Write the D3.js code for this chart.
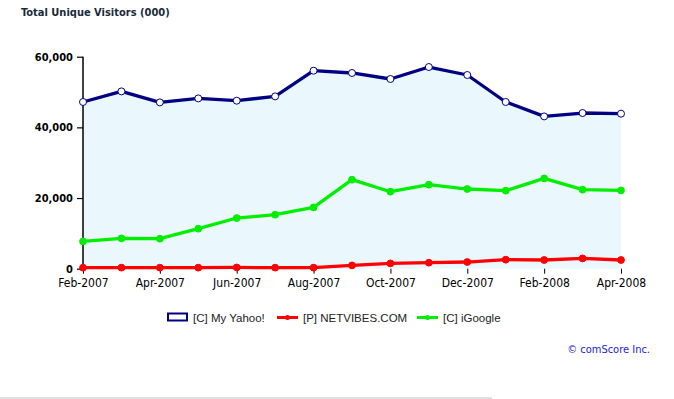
<!DOCTYPE html>
<html><head><meta charset="utf-8">
<script src="https://cdn.jsdelivr.net/npm/d3@7"></script>
<style>body{margin:0;background:#fff;}svg{display:block;}</style>
</head><body>
<script>
const months = ["Feb-2007","Mar-2007","Apr-2007","May-2007","Jun-2007","Jul-2007","Aug-2007","Sep-2007","Oct-2007","Nov-2007","Dec-2007","Jan-2008","Feb-2008","Mar-2008","Apr-2008"];
const myYahoo = [47180,50180,47070,48200,47550,48770,56040,55390,53690,57080,54820,47180,43100,44060,43870];
const netvibes = [280,300,300,300,350,300,300,930,1500,1700,1890,2550,2460,2920,2460];
const iGoogle = [7730,8580,8490,11320,14340,15280,17350,25190,21790,23770,22550,22080,25560,22360,22160];
const yTicks = [0,20000,40000,60000];
const xTickLabels = ["Feb-2007","Apr-2007","Jun-2007","Aug-2007","Oct-2007","Dec-2007","Feb-2008","Apr-2008"];
const seriesNames = ["[C] My Yahoo!","[P] NETVIBES.COM","[C] iGoogle"];

const W=674,H=399;
const svg=d3.select("body").append("svg").attr("width",W).attr("height",H);
const x=d3.scalePoint().domain(months).range([83,621]);
const y=d3.scaleLinear().domain([0,60000]).range([268.7,56.7]);

const tahoma="'DejaVu Sans Condensed','DejaVu Sans',sans-serif";
svg.append("text").attr("x",21).attr("y",16).attr("font-family",tahoma).attr("font-weight","bold")
  .attr("font-size",11).attr("fill","#1a2a3a").text("Total Unique Visitors (000)");

// area fill
svg.append("path").datum(months).attr("fill","#eaf8fe")
  .attr("d",d3.area().x(d=>x(d)).y0(y(0)).y1((d,i)=>y(myYahoo[i])));

// y axis
const ya=svg.append("g").attr("transform","translate(83,0)")
  .call(d3.axisLeft(y).tickValues(yTicks).tickSize(6).tickPadding(4).tickFormat(d3.format(",")));
ya.select(".domain").attr("d","M0,"+y(60000)+"V"+(y(0)+1)).attr("stroke","#000").attr("stroke-width",1.5);
ya.selectAll("text").attr("font-family",tahoma).attr("font-weight","bold").attr("font-size",11).attr("fill","#000");
ya.selectAll("line").attr("stroke","#000").attr("stroke-width",1.2);

// x axis
const xa=svg.append("g").attr("transform","translate(0,"+y(0)+")")
  .call(d3.axisBottom(x).tickValues(xTickLabels).tickSize(5).tickPadding(5));
xa.select(".domain").remove();
xa.selectAll("line").attr("stroke","#000");
xa.selectAll("text").attr("font-family",tahoma).attr("font-size",12).attr("fill","#000");

function drawLine(vals,color,w,markerFill,markerStroke,r){
  svg.append("path").datum(vals).attr("fill","none").attr("stroke",color).attr("stroke-width",w)
    .attr("stroke-linejoin","round")
    .attr("d",d3.line().x((d,i)=>x(months[i])).y(d=>y(d)));
  svg.append("g").selectAll("circle").data(vals).join("circle")
    .attr("cx",(d,i)=>x(months[i])).attr("cy",d=>y(d)).attr("r",r)
    .attr("fill",markerFill).attr("stroke",markerStroke).attr("stroke-width",1);
}
drawLine(myYahoo,"#000080",3.3,"#fff","#000080",3.5);
drawLine(netvibes,"#ff0000",3.3,"#ff0000","#ff0000",3.4);
drawLine(iGoogle,"#00ee00",3.3,"#00ee00","#00ee00",3.4);

// legend
const lg=svg.append("g").attr("font-family","'Liberation Sans',Arial,sans-serif").attr("font-size",11.5).attr("fill","#222");
lg.append("rect").attr("x",168).attr("y",313.5).attr("width",19).attr("height",7).attr("fill","#fff").attr("stroke","#000080").attr("stroke-width",2);
lg.append("text").attr("x",193).attr("y",322).text(seriesNames[0]);
lg.append("line").attr("x1",277).attr("x2",298).attr("y1",317.5).attr("y2",317.5).attr("stroke","#ff0000").attr("stroke-width",3);
lg.append("circle").attr("cx",287.5).attr("cy",317.5).attr("r",2.5).attr("fill","#ff0000");
lg.append("text").attr("x",303).attr("y",322).text(seriesNames[1]);
lg.append("line").attr("x1",417).attr("x2",438).attr("y1",317.5).attr("y2",317.5).attr("stroke","#00ee00").attr("stroke-width",3);
lg.append("circle").attr("cx",427.5).attr("cy",317.5).attr("r",2.5).attr("fill","#00ee00");
lg.append("text").attr("x",443).attr("y",322).text(seriesNames[2]);

svg.append("text").attr("x",650).attr("y",352.5).attr("text-anchor","end").attr("font-family",tahoma)
  .attr("font-size",11).attr("fill","#2222dd").text("© comScore Inc.");

svg.append("rect").attr("x",0).attr("y",397).attr("width",492).attr("height",2).attr("fill","#e0e0e0");
</script>
</body></html>
